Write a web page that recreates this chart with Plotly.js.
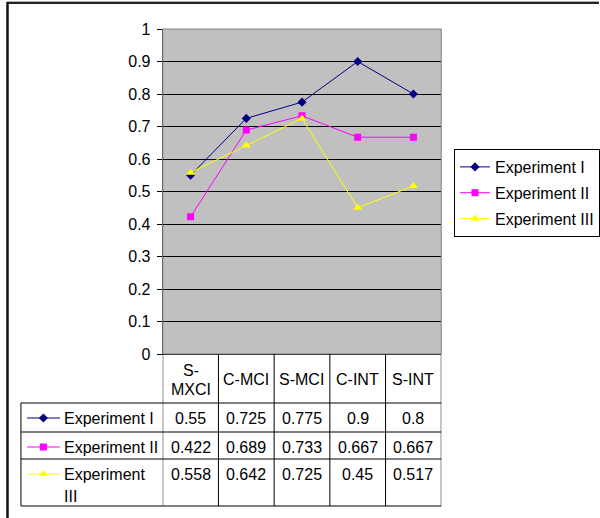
<!DOCTYPE html>
<html>
<head>
<meta charset="utf-8">
<script src="https://cdn.plot.ly/plotly-3.0.1.min.js"></script>
<style>html,body{margin:0;padding:0;background:#fff;}#chart{width:600px;height:518px;}</style>
</head>
<body>
<div id="chart"></div>
<script>
// ---- data ----
const categories = ['S-MXCI', 'C-MCI', 'S-MCI', 'C-INT', 'S-INT'];
const headerLines = [['S-', 'MXCI'], ['C-MCI'], ['S-MCI'], ['C-INT'], ['S-INT']];
const seriesNames = ['Experiment I', 'Experiment II', 'Experiment III'];
const rowLabelLines = [['Experiment I'], ['Experiment II'], ['Experiment', 'III']];
const exp1 = [0.55, 0.725, 0.775, 0.9, 0.8];
const exp2 = [0.422, 0.689, 0.733, 0.667, 0.667];
const exp3 = [0.558, 0.642, 0.725, 0.45, 0.517];
const yTickVals = [0, 0.1, 0.2, 0.3, 0.4, 0.5, 0.6, 0.7, 0.8, 0.9, 1];
const yTickText = ['0', '0.1', '0.2', '0.3', '0.4', '0.5', '0.6', '0.7', '0.8', '0.9', '1'];

// ---- styles ----
const colors = ['#000080', '#FF00FF', '#FFFF00'];
const symbols = ['diamond', 'square', 'triangle-up'];
const msizes = [7, 7, 8];
const FONT = 'Liberation Sans, Arial, sans-serif';
const FS = 16;
const W = 600, H = 518;
const plotL = 163, plotR = 442, plotT = 29, plotB = 354;
const tableL = 21;
const rowBounds = [403, 432, 459, 506];
const px = x => x / W;
const py = y => 1 - y / H;

const seriesData = [exp1, exp2, exp3];
const traces = seriesData.map((vals, i) => ({
  type: 'scatter', mode: 'lines+markers',
  x: categories, y: vals, name: seriesNames[i],
  legendgroup: 'g' + i,
  line: {color: colors[i], width: 1},
  marker: {color: colors[i], symbol: symbols[i], size: msizes[i], line: {width: 0}},
  hoverinfo: 'skip'
}));

// legend keys in the data-table row headers
const keyY = rowBounds.slice(0, 3).map(t => t + 15);
seriesData.forEach((_, i) => {
  traces.push({
    type: 'scatter', mode: 'lines', x: [0, 1], y: [keyY[i], keyY[i]],
    xaxis: 'x2', yaxis: 'y2', showlegend: false, hoverinfo: 'skip',
    line: {color: colors[i], width: 1}
  });
  traces.push({
    type: 'scatter', mode: 'markers', x: [0.5], y: [keyY[i]],
    xaxis: 'x2', yaxis: 'y2', showlegend: false, hoverinfo: 'skip',
    marker: {color: colors[i], symbol: symbols[i], size: msizes[i], line: {width: 0}}
  });
});

const shapes = [];
const annotations = [];
const lineStyle = {color: '#000000', width: 1};
function hline(x0, x1, y, xref) {
  shapes.push({type: 'line', xref: xref || 'paper', yref: 'paper', x0: x0, x1: x1, y0: py(y), y1: py(y), line: lineStyle});
}
function vline(x, y0, y1, xref) {
  shapes.push({type: 'line', xref: xref || 'paper', yref: 'paper', x0: x, x1: x, y0: py(y0), y1: py(y1), line: lineStyle});
}

// plot area background (below grid) and border (gray)
shapes.push({type: 'rect', xref: 'x domain', yref: 'y domain', x0: 0, x1: 1, y0: 0, y1: 1, fillcolor: '#C0C0C0', line: {width: 0}, layer: 'below'});
shapes.push({type: 'rect', xref: 'paper', yref: 'paper', x0: px(plotL), x1: px(plotR), y0: py(plotB), y1: py(plotT), line: {color: '#808080', width: 1}, layer: 'above'});

// table lines
rowBounds.forEach(y => hline(px(tableL), px(plotR), y));
vline(px(tableL), rowBounds[0], rowBounds[3]);
for (let k = 0; k <= categories.length; k++) {
  vline(k - 0.5, plotB, rowBounds[3], 'x');
}

// header text
headerLines.forEach((lines, i) => {
  const lh = 19;
  const mid = (plotB + rowBounds[0]) / 2 + 1;
  lines.forEach((t, j) => {
    annotations.push({xref: 'x', yref: 'paper', x: i, y: py(mid - (lines.length - 1) * lh / 2 + j * lh),
      text: t, showarrow: false, xanchor: 'center', yanchor: 'middle', font: {family: FONT, size: FS, color: '#000'}});
  });
});
// row labels and values
seriesData.forEach((vals, r) => {
  rowLabelLines[r].forEach((t, j) => {
    annotations.push({xref: 'paper', yref: 'paper', x: px(62), y: py(keyY[r] + j * 22), text: t, showarrow: false,
      xanchor: 'left', yanchor: 'middle', font: {family: FONT, size: FS, color: '#000'}});
  });
  vals.forEach((v, i) => {
    annotations.push({xref: 'x', yref: 'paper', x: i, y: py(keyY[r]), text: String(v), showarrow: false,
      xanchor: 'center', yanchor: 'middle', font: {family: FONT, size: FS, color: '#000'}});
  });
});

// outer frame
shapes.push({type: 'line', xref: 'paper', yref: 'paper', x0: px(7), x1: 1, y0: py(1.5), y1: py(1.5), line: {color: '#b0b0b0', width: 1}});
shapes.push({type: 'line', xref: 'paper', yref: 'paper', x0: px(7), x1: 1, y0: py(3), y1: py(3), line: {color: '#222', width: 2}});
shapes.push({type: 'line', xref: 'paper', yref: 'paper', x0: px(7.5), x1: px(7.5), y0: py(2), y1: 0, line: {color: '#111', width: 2.5}});

const layout = {
  width: W, height: H,
  margin: {l: 0, r: 0, t: 0, b: 0, pad: 0},
  paper_bgcolor: '#ffffff', plot_bgcolor: 'rgba(0,0,0,0)',
  showlegend: true,
  font: {family: FONT, size: FS, color: '#000'},
  xaxis: {
    domain: [px(plotL), px(plotR)], type: 'category', range: [-0.5, categories.length - 0.5],
    showticklabels: false, ticks: '', showgrid: false, zeroline: false,
    showline: true, linecolor: '#000', linewidth: 1, fixedrange: true
  },
  yaxis: {
    domain: [py(plotB), py(plotT)], range: [0, 1], tickvals: yTickVals, ticktext: yTickText,
    ticks: 'outside', ticklen: 5, tickcolor: '#000', tickwidth: 1, ticklabelstandoff: 3,
    showline: true, linecolor: '#000', linewidth: 1,
    showgrid: true, gridcolor: '#000', gridwidth: 1, zeroline: false,
    tickfont: {family: FONT, size: FS, color: '#000'}, fixedrange: true
  },
  xaxis2: {domain: [px(27), px(60)], range: [0, 1], visible: false, fixedrange: true, anchor: 'y2'},
  yaxis2: {domain: [py(rowBounds[3]), py(rowBounds[0])], range: [rowBounds[3], rowBounds[0]], visible: false, fixedrange: true, anchor: 'x2'},
  legend: {
    x: px(455), y: py(149), xanchor: 'left', yanchor: 'top',
    bordercolor: '#000', borderwidth: 1, bgcolor: '#fff',
    font: {family: FONT, size: FS, color: '#000'},
    traceorder: 'grouped', tracegroupgap: 2, itemwidth: 30
  },
  shapes: shapes,
  annotations: annotations
};

Plotly.newPlot('chart', traces, layout, {staticPlot: true, displayModeBar: false});
</script>
</body>
</html>
